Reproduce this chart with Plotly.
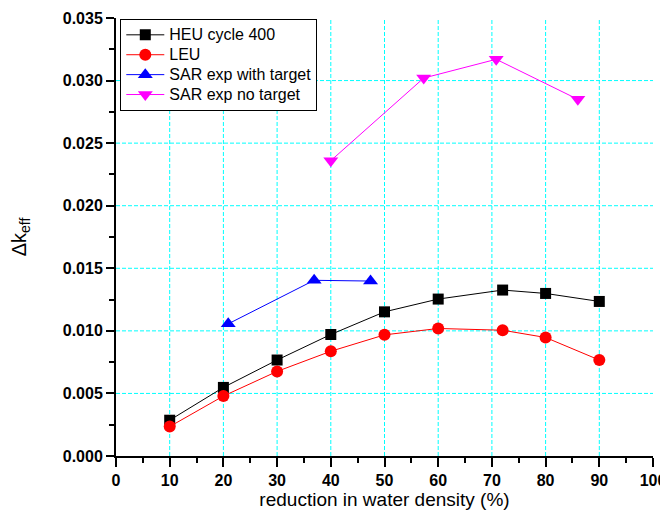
import plotly.graph_objects as go

heu_x = [10, 20, 30, 40, 50, 60, 72, 80, 90]
heu_y = [0.00286, 0.00548, 0.00767, 0.00971, 0.01152, 0.01254, 0.01326, 0.01299, 0.01235]
leu_x = [10, 20, 30, 40, 50, 60, 72, 80, 90]
leu_y = [0.00235, 0.00479, 0.00676, 0.00837, 0.00968, 0.01019, 0.01005, 0.00947, 0.00767]
sar_t_x = [20.9, 36.9, 47.4]
sar_t_y = [0.01056, 0.01404, 0.01398]
sar_n_x = [40, 57.3, 70.8, 86.0]
sar_n_y = [0.0236, 0.0302, 0.0317, 0.0285]

x_ticks = list(range(0, 101, 10))
y_ticks = [0.000, 0.005, 0.010, 0.015, 0.020, 0.025, 0.030, 0.035]
y_tick_text = ["0.000", "0.005", "0.010", "0.015", "0.020", "0.025", "0.030", "0.035"]
x_grid = x_ticks[1:-1]
y_grid = y_ticks[1:-1]

FONT = "Liberation Sans, Arial, sans-serif"
GRID = "#00FFFF"

fig = go.Figure()
series = [
    ("HEU cycle 400", heu_x, heu_y, "black", "square", 11),
    ("LEU", leu_x, leu_y, "red", "circle", 12),
    ("SAR exp with target", sar_t_x, sar_t_y, "blue", "triangle-up", 13),
    ("SAR exp no target", sar_n_x, sar_n_y, "#FF00FF", "triangle-down", 13),
]
for name, xs, ys, col, sym, sz in series:
    fig.add_trace(go.Scatter(
        x=xs, y=ys, name='<span style="font-size:16px">' + name + '</span>',
        mode="lines+markers",
        line=dict(color=col, width=1),
        marker=dict(color=col, symbol=sym, size=sz, line=dict(width=0)),
    ))

# dashed grid at the inner major ticks only
for v in x_grid:
    fig.add_vline(x=v, line=dict(color=GRID, width=1, dash="4px,2px"), layer="below")
for v in y_grid:
    fig.add_hline(y=v, line=dict(color=GRID, width=1, dash="4px,2px"), layer="below")

tickfont = dict(size=16, family="Liberation Sans, Arial", weight="bold")

fig.update_layout(
    width=660, height=502,
    margin=dict(l=108, r=15, t=10, b=54),
    paper_bgcolor="white", plot_bgcolor="white",
    font=dict(family=FONT, color="black"),
    showlegend=True,
    legend=dict(
        x=0.008, y=0.998, xanchor="left", yanchor="top",
        bordercolor="black", borderwidth=1, bgcolor="white",
        font=dict(size=13, family=FONT), tracegroupgap=0, itemwidth=38,
    ),
    xaxis=dict(
        range=[0, 100], tickvals=x_ticks, ticktext=[str(v) for v in x_ticks],
        showline=True, linecolor="black", linewidth=2,
        ticks="outside", ticklen=9, tickwidth=2, tickcolor="black",
        minor=dict(ticks="outside", ticklen=5, tickwidth=2, tickcolor="black", dtick=5, showgrid=False),
        tickfont=tickfont, showgrid=False, zeroline=False, automargin=False,
        title=dict(text="reduction in water density (%)", font=dict(size=19), standoff=7),
    ),
    yaxis=dict(
        range=[0, 0.035], tickvals=y_ticks, ticktext=y_tick_text,
        showline=True, linecolor="black", linewidth=2,
        ticks="outside", ticklen=8, tickwidth=2, tickcolor="black",
        minor=dict(ticks="outside", ticklen=5, tickwidth=2, tickcolor="black", dtick=0.0025, showgrid=False),
        tickfont=tickfont, showgrid=False, zeroline=False, automargin=False,
        title=dict(text="Δk<sub>eff</sub>", font=dict(size=20), standoff=34),
    ),
)

fig.write_html("out.html")
